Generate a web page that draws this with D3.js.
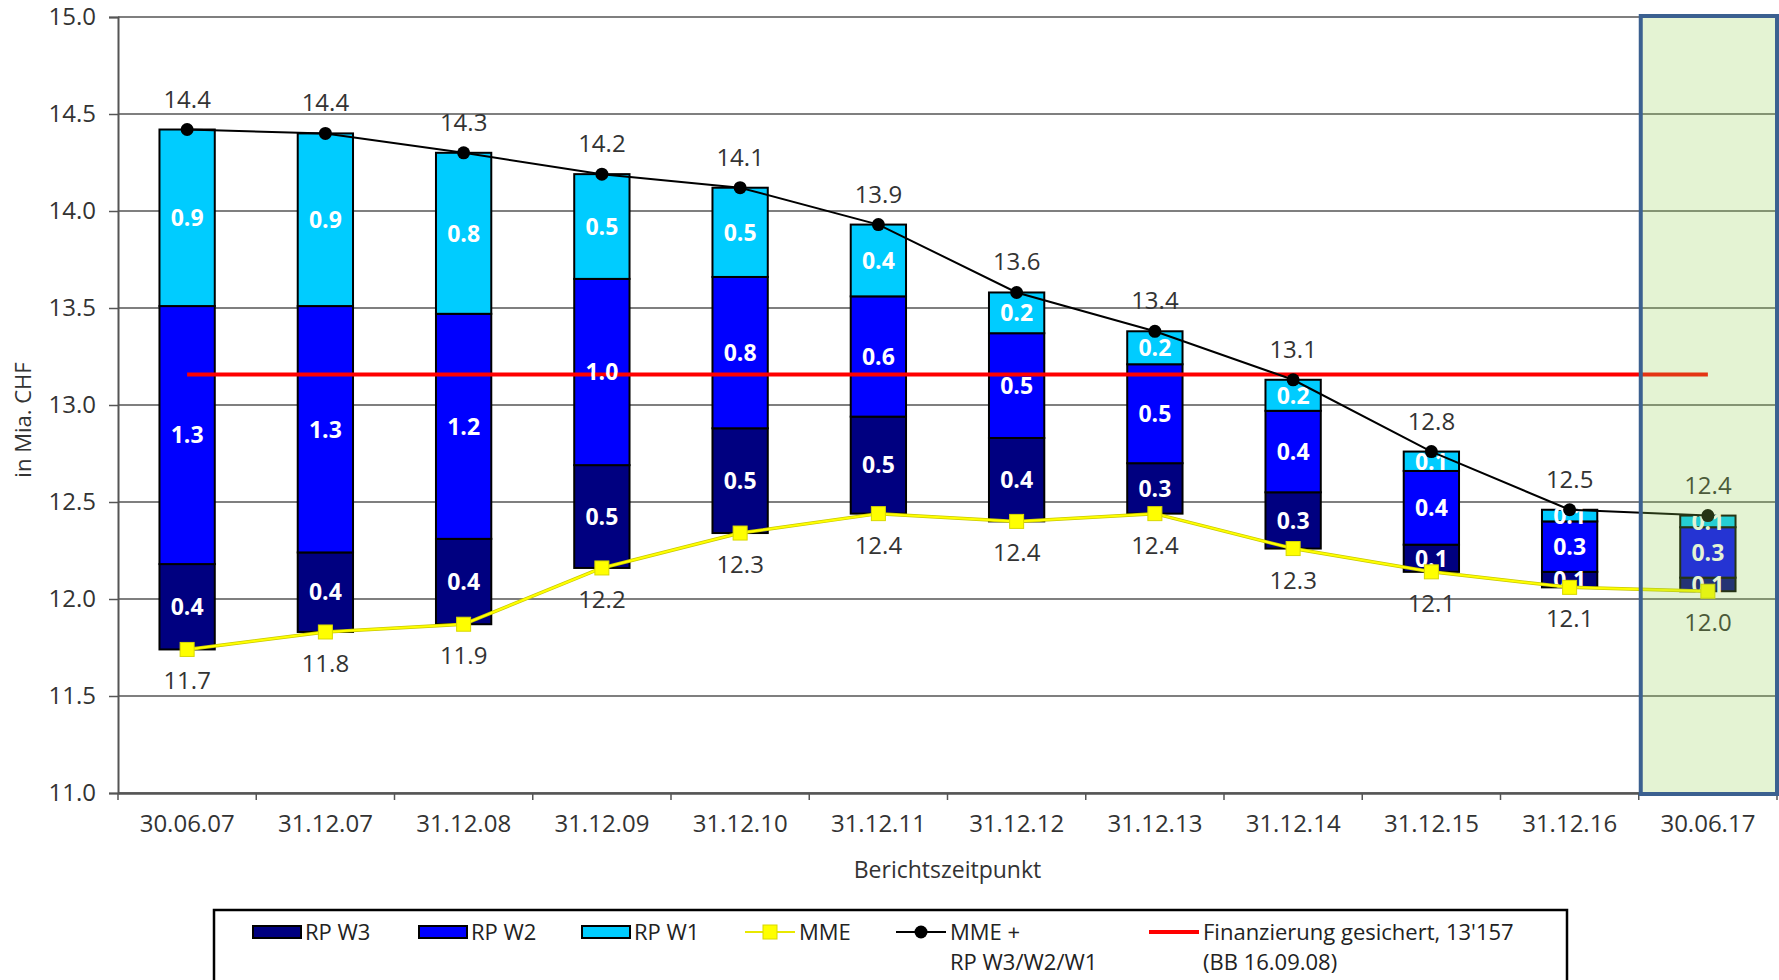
<!DOCTYPE html>
<html>
<head>
<meta charset="utf-8">
<script src="https://cdn.jsdelivr.net/npm/d3@7"></script>
<style>
  body { margin: 0; background: #fff; }
  svg { font-family: "Open Sans", "Noto Sans", sans-serif; }
</style>
</head>
<body>
<svg width="1779" height="980"></svg>
<script>
const categories = ["30.06.07", "31.12.07", "31.12.08", "31.12.09", "31.12.10", "31.12.11",
    "31.12.12", "31.12.13", "31.12.14", "31.12.15", "31.12.16", "30.06.17"];
const mme  = [11.74, 11.83, 11.87, 12.16, 12.34, 12.44, 12.40, 12.44, 12.26, 12.14, 12.06, 12.04];
const rpW3 = [0.44, 0.41, 0.44, 0.53, 0.54, 0.50, 0.43, 0.26, 0.29, 0.14, 0.08, 0.07];
const rpW2 = [1.33, 1.27, 1.16, 0.96, 0.78, 0.62, 0.54, 0.51, 0.42, 0.38, 0.26, 0.26];
const rpW1 = [0.91, 0.89, 0.83, 0.54, 0.46, 0.37, 0.21, 0.17, 0.16, 0.10, 0.06, 0.06];
const financing = 13.157;
const yTicks = [11.0, 11.5, 12.0, 12.5, 13.0, 13.5, 14.0, 14.5, 15.0];

const svg = d3.select("svg");
const margin = {left: 118, right: 2, top: 17, bottom: 187};
const width = 1779, height = 980;

const x = d3.scaleBand().domain(categories)
    .range([margin.left, width - margin.right]).paddingInner(0.6).paddingOuter(0.3);
const xc = d => x(d) + x.bandwidth() / 2;
const y = d3.scaleLinear().domain([11, 15]).range([height - margin.bottom, margin.top]);
const fmt = d3.format(".1f");

// gridlines
svg.append("g").selectAll("line").data(yTicks).enter().append("line")
    .attr("x1", margin.left).attr("x2", width - margin.right)
    .attr("y1", d => y(d)).attr("y2", d => y(d))
    .attr("stroke", "#555").attr("stroke-width", 1.5);

// y axis
const yAxis = svg.append("g").attr("transform", `translate(${margin.left},0)`)
    .call(d3.axisLeft(y).tickValues(yTicks).tickFormat(fmt).tickSize(9).tickPadding(13));
yAxis.select(".domain").attr("stroke", "#555").attr("stroke-width", 2);
yAxis.selectAll(".tick line").attr("stroke", "#555").attr("stroke-width", 1.5);
yAxis.selectAll("text").attr("font-size", 24).attr("fill", "#333")
    .attr("font-family", "'Open Sans', sans-serif");

// x axis
const xAxis = svg.append("g").attr("transform", `translate(0,${y(11)})`)
    .call(d3.axisBottom(x).tickSize(0).tickPadding(22));
xAxis.select(".domain").attr("stroke", "#555").attr("stroke-width", 2.5);
xAxis.selectAll("text").attr("font-size", 24).attr("fill", "#333")
    .attr("font-family", "'Open Sans', sans-serif");
const step = x.step();
svg.append("g").selectAll("line").data(d3.range(categories.length + 1)).enter().append("line")
    .attr("x1", i => margin.left + i * step)
    .attr("x2", i => margin.left + i * step)
    .attr("y1", y(11)).attr("y2", y(11) + 7)
    .attr("stroke", "#555").attr("stroke-width", 1.5);

// stacked floating bars
const series = [
    {name: "RP W3", values: rpW3, color: "#000080"},
    {name: "RP W2", values: rpW2, color: "#0000ff"},
    {name: "RP W1", values: rpW1, color: "#00ccff"}
];
const segs = [];
categories.forEach((c, i) => {
    let base = mme[i];
    series.forEach(s => {
        segs.push({cat: c, y0: base, y1: base + s.values[i], v: s.values[i], color: s.color});
        base += s.values[i];
    });
});
svg.append("g").selectAll("rect").data(segs).enter().append("rect")
    .attr("x", d => x(d.cat)).attr("width", x.bandwidth())
    .attr("y", d => y(d.y1)).attr("height", d => y(d.y0) - y(d.y1))
    .attr("fill", d => d.color).attr("stroke", "#000").attr("stroke-width", 2);

// financing line
svg.append("line")
    .attr("x1", xc(categories[0])).attr("x2", xc(categories[categories.length - 1]))
    .attr("y1", y(financing)).attr("y2", y(financing))
    .attr("stroke", "#ff0000").attr("stroke-width", 4);

svg.append("g").selectAll("text").data(segs).enter().append("text")
    .attr("x", d => xc(d.cat)).attr("y", d => y((d.y0 + d.y1) / 2))
    .attr("dy", "0.36em").attr("text-anchor", "middle")
    .attr("font-size", 23).attr("font-weight", "bold").attr("fill", "#fff")
    .text(d => fmt(d.v));

// total line
const totals = categories.map((c, i) => mme[i] + rpW3[i] + rpW2[i] + rpW1[i]);
const line = d3.line().x((d, i) => xc(categories[i])).y(d => y(d));
svg.append("path").datum(totals).attr("d", line)
    .attr("fill", "none").attr("stroke", "#000").attr("stroke-width", 2);
svg.append("g").selectAll("circle").data(totals).enter().append("circle")
    .attr("cx", (d, i) => xc(categories[i])).attr("cy", d => y(d)).attr("r", 6.5)
    .attr("fill", "#000");

// MME line
svg.append("path").datum(mme).attr("d", line)
    .attr("fill", "none").attr("stroke", "#c8c800").attr("stroke-width", 3.5);
svg.append("path").datum(mme).attr("d", line)
    .attr("fill", "none").attr("stroke", "#ffff00").attr("stroke-width", 2);
svg.append("g").selectAll("rect").data(mme).enter().append("rect")
    .attr("x", (d, i) => xc(categories[i]) - 7).attr("y", d => y(d) - 7)
    .attr("width", 14).attr("height", 14)
    .attr("fill", "#ffff00").attr("stroke", "#d8d800").attr("stroke-width", 1);

// value labels
svg.append("g").selectAll("text").data(totals).enter().append("text")
    .attr("x", (d, i) => xc(categories[i])).attr("y", d => y(d) - 22)
    .attr("text-anchor", "middle").attr("font-size", 24).attr("fill", "#333")
    .text(d => fmt(d));
svg.append("g").selectAll("text").data(mme).enter().append("text")
    .attr("x", (d, i) => xc(categories[i])).attr("y", d => y(d) + 40)
    .attr("text-anchor", "middle").attr("font-size", 24).attr("fill", "#333")
    .text(d => fmt(d));

// highlight of the last report date
const colL = margin.left + (categories.length - 1) * step;
svg.append("rect")
    .attr("x", colL + 2).attr("y", y(15) - 1)
    .attr("width", width - margin.right - colL - 2).attr("height", y(11) - y(15) + 2)
    .attr("fill", "rgba(146,208,80,0.25)")
    .attr("stroke", "#3b6090").attr("stroke-width", 4);

// axis titles
svg.append("text").attr("transform", `translate(31,${(y(11) + y(15)) / 2 + 15}) rotate(-90)`)
    .attr("text-anchor", "middle").attr("font-size", 22).attr("fill", "#333")
    .text("in Mia. CHF");
svg.append("text").attr("x", (margin.left + width - margin.right) / 2).attr("y", 878)
    .attr("text-anchor", "middle").attr("font-size", 23).attr("fill", "#333")
    .text("Berichtszeitpunkt");

// legend
const legend = svg.append("g");
legend.append("rect").attr("x", 214).attr("y", 910).attr("width", 1353).attr("height", 100)
    .attr("fill", "#fff").attr("stroke", "#000").attr("stroke-width", 2.5);
const ly = 932;
const legendItems = [
    {type: "bar", x: 253, color: "#000080", text: ["RP W3"]},
    {type: "bar", x: 419, color: "#0000ff", text: ["RP W2"]},
    {type: "bar", x: 582, color: "#00ccff", text: ["RP W1"]},
    {type: "mme", x: 745, color: "#ffff00", text: ["MME"]},
    {type: "tot", x: 896, color: "#000", text: ["MME +", "RP W3/W2/W1"]},
    {type: "fin", x: 1149, color: "#ff0000", text: ["Finanzierung gesichert, 13'157", "(BB 16.09.08)"]}
];
legendItems.forEach(it => {
    const g = legend.append("g");
    if (it.type === "bar") {
        g.append("rect").attr("x", it.x).attr("y", ly - 6).attr("width", 48).attr("height", 12)
            .attr("fill", it.color).attr("stroke", "#000").attr("stroke-width", 2);
    } else {
        g.append("line").attr("x1", it.x).attr("x2", it.x + 50).attr("y1", ly).attr("y2", ly)
            .attr("stroke", it.type === "mme" ? "#e8e800" : it.color)
            .attr("stroke-width", it.type === "fin" ? 4 : 2);
        if (it.type === "mme") {
            g.append("rect").attr("x", it.x + 18).attr("y", ly - 7).attr("width", 14).attr("height", 14)
                .attr("fill", "#ffff00").attr("stroke", "#d8d800");
        } else if (it.type === "tot") {
            g.append("circle").attr("cx", it.x + 25).attr("cy", ly).attr("r", 6.5).attr("fill", "#000");
        }
    }
    it.text.forEach((t, k) => {
        g.append("text").attr("x", it.x + (it.type === "bar" ? 52 : 54)).attr("y", ly + k * 30)
            .attr("dy", "0.35em").attr("font-size", 22).attr("fill", "#222").text(t);
    });
});
</script>
</body>
</html>
